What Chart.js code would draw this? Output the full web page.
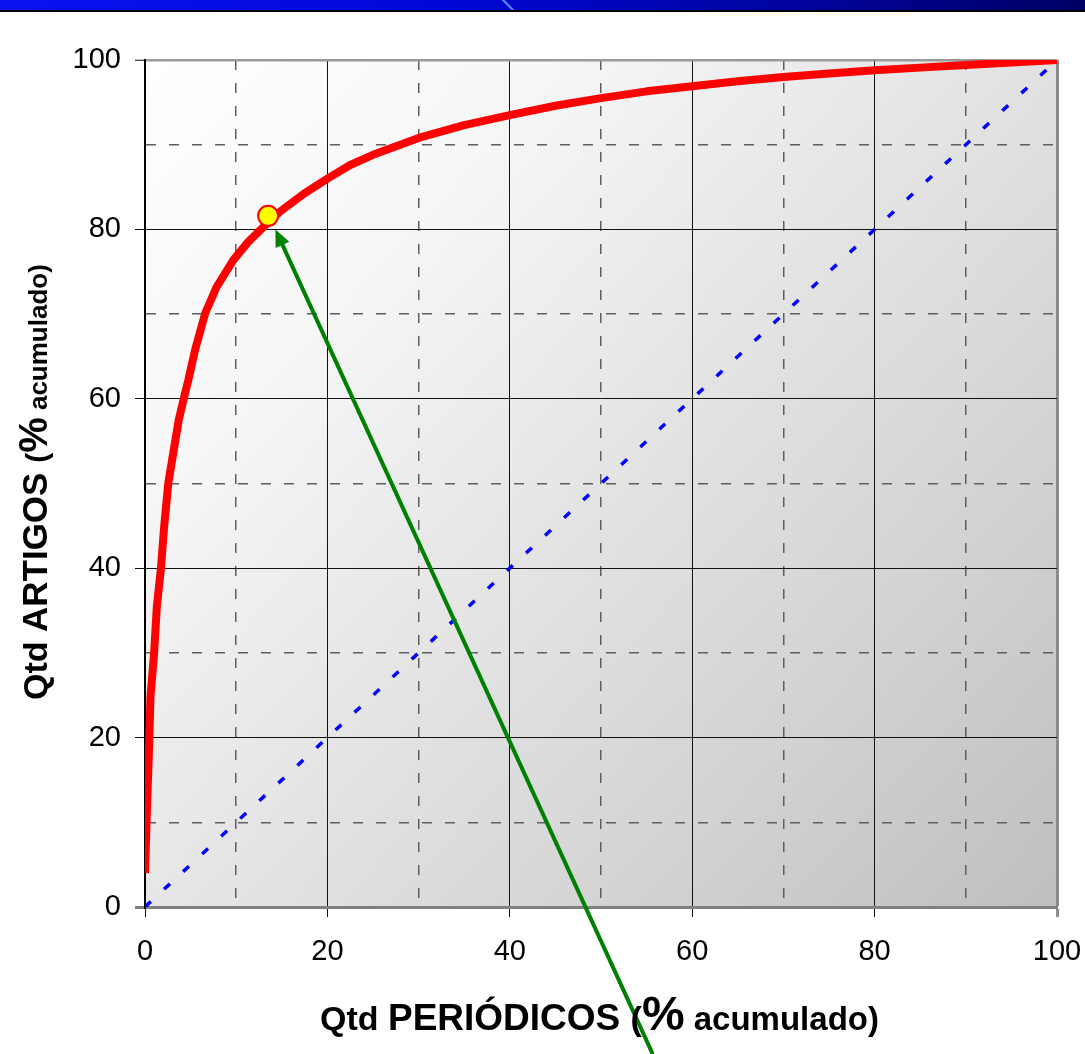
<!DOCTYPE html>
<html>
<head>
<meta charset="utf-8">
<script src="https://cdn.jsdelivr.net/npm/chart.js@4.4.1/dist/chart.umd.min.js"></script>
<style>
  html, body { margin: 0; padding: 0; background: #fff; overflow: hidden; }
  #wrap { position: relative; width: 1085px; height: 1054px; }
  #wrap canvas { display: block; }
  #header {
    position: absolute; left: 0; top: 0; width: 1085px; height: 10px;
    background: linear-gradient(to right, #0a12f2 0%, #0008d8 40%, #00039a 75%, #000064 100%);
    border-bottom: 2px solid #000; overflow: hidden; z-index: 2;
  }
  #header .streak {
    position: absolute; left: 508px; top: -4px; width: 2px; height: 20px;
    background: #5a8cff; transform: rotate(-45deg);
  }
</style>
</head>
<body>
<div id="wrap">
  <div id="header"><div class="streak"></div></div>
  <canvas id="lorenzChart"></canvas>
</div>
<script>
// ===== DATA =====
// cumulative % of journals (x) vs cumulative % of articles (y)
const curveX = [0, 0.2, 0.45, 0.6, 1.0, 1.3, 1.75, 2.1, 2.55, 3.1, 3.7, 4.4, 4.75, 5.5, 6.6, 7.85, 9.7, 11.3, 13.0, 14.8, 17.4, 20, 22.5, 25, 30, 35, 40, 45, 50, 55, 60, 65, 70, 75, 80, 85, 90, 95, 100];
const curveY = [4, 11.1, 18.9, 24.8, 30, 35.5, 40, 44.9, 50, 53.6, 57.5, 60.7, 62.2, 65.8, 70.1, 73.2, 76.4, 78.5, 80.3, 82.1, 84.2, 86.0, 87.6, 88.8, 90.8, 92.3, 93.5, 94.6, 95.5, 96.3, 96.9, 97.5, 98.0, 98.4, 98.8, 99.1, 99.4, 99.7, 100];

// equality line
const diagX = [0, 100];
const diagY = [0, 100];

// highlighted point and the arrow that points at it (tail, tip)
const markX = [13.5];
const markY = [81.6];
const arrowX = [55.6, 14.3];
const arrowY = [-17.2, 80.0];

// tick labels shown on both axes
const tickLabels = [0, 20, 40, 60, 80, 100];

// axis titles: [text, font size]
const xTitle = [["Qtd ", 34], ["PERIÓDICOS ", 37], ["(", 34], ["%", 48], [" acumulado)", 33]];
const yTitle = [["Qtd ", 34], ["ARTIGOS ", 35], ["(", 30], ["%", 40], [" acumulado)", 26]];

const FONT = "'Liberation Sans', Arial, sans-serif";

// ===== PLUGINS =====
const plotBackground = {
  id: "plotBackground",
  beforeDraw(chart) {
    const { ctx, chartArea: a } = chart;
    const g = ctx.createLinearGradient(a.left, a.top, a.right, a.bottom);
    g.addColorStop(0, "#ffffff");
    g.addColorStop(0.25, "#f6f6f6");
    g.addColorStop(0.5, "#e4e4e4");
    g.addColorStop(0.75, "#d2d2d2");
    g.addColorStop(1, "#bfbfbf");
    ctx.save();
    ctx.fillStyle = g;
    ctx.fillRect(a.left, a.top, a.right - a.left, a.bottom - a.top);
    ctx.restore();
  },
};

const arrowPlugin = {
  id: "arrowPlugin",
  afterDatasetsDraw(chart) {
    const { ctx, scales } = chart;
    const x0 = scales.x.getPixelForValue(arrowX[0]);
    const y0 = scales.y.getPixelForValue(arrowY[0]);
    const x1 = scales.x.getPixelForValue(arrowX[1]);
    const y1 = scales.y.getPixelForValue(arrowY[1]);
    const ang = Math.atan2(y1 - y0, x1 - x0);
    const headLen = 17, headHalf = 7.5;
    const bx = x1 - headLen * Math.cos(ang);
    const by = y1 - headLen * Math.sin(ang);
    ctx.save();
    ctx.strokeStyle = "#008000";
    ctx.fillStyle = "#008000";
    ctx.lineWidth = 4;
    ctx.lineCap = "round";
    ctx.beginPath();
    ctx.moveTo(x0, y0);
    ctx.lineTo(bx, by);
    ctx.stroke();
    ctx.beginPath();
    ctx.moveTo(x1, y1);
    ctx.lineTo(bx + headHalf * Math.sin(ang), by - headHalf * Math.cos(ang));
    ctx.lineTo(bx - headHalf * Math.sin(ang), by + headHalf * Math.cos(ang));
    ctx.closePath();
    ctx.fill();
    ctx.restore();
  },
};

// axis titles have mixed font sizes, so draw them piece by piece
function drawRich(ctx, parts) {
  let pos = 0;
  parts.forEach(([txt, size]) => {
    ctx.font = `bold ${size}px ${FONT}`;
    ctx.fillText(txt, pos, 0);
    pos += ctx.measureText(txt).width;
  });
}

const axisTitles = {
  id: "axisTitles",
  afterDraw(chart) {
    const { ctx } = chart;
    ctx.save();
    ctx.fillStyle = "#000";
    ctx.textBaseline = "alphabetic";
    ctx.textAlign = "left";
    ctx.translate(320, 1030);
    drawRich(ctx, xTitle);
    ctx.restore();

    ctx.save();
    ctx.fillStyle = "#000";
    ctx.textBaseline = "alphabetic";
    ctx.textAlign = "left";
    ctx.translate(47, 700);
    ctx.rotate(-Math.PI / 2);
    drawRich(ctx, yTitle);
    ctx.restore();
  },
};

// ===== GRID STYLE HELPERS =====
const isMajor = (c) => c.tick && c.tick.value % 20 === 0;
const gridColor = (edgeColor) => (c) => {
  if (!c.tick) return "#000";
  if (c.tick.value === 100) return edgeColor;
  return isMajor(c) ? "#111" : "#5e5e5e";
};

const axisFont = { family: FONT, size: 29 };
const tickCb = (v) => (tickLabels.includes(v) ? v : "");

// ===== CHART =====
new Chart(document.getElementById("lorenzChart"), {
  type: "scatter",
  data: {
    datasets: [
      {
        label: "Artigos acumulados",
        data: curveX.map((x, i) => ({ x, y: curveY[i] })),
        showLine: true,
        borderColor: "#ff0000",
        borderWidth: 8,
        pointRadius: 0,
        tension: 0,
        borderJoinStyle: "round",
        order: 2,
      },
      {
        label: "Igualdade",
        data: diagX.map((x, i) => ({ x, y: diagY[i] })),
        showLine: true,
        borderColor: "#0000ff",
        borderWidth: 3.5,
        borderDash: [8, 18],
        pointRadius: 0,
        order: 3,
      },
      {
        label: "Ponto",
        data: markX.map((x, i) => ({ x, y: markY[i] })),
        pointRadius: 10,
        pointBackgroundColor: "#ffff00",
        pointBorderColor: "#ff0000",
        pointBorderWidth: 2,
        order: 1,
      },
    ],
  },
  options: {
    responsive: true,
    maintainAspectRatio: false,
    animation: false,
    layout: { autoPadding: false, padding: { top: 60, right: 28, left: 0, bottom: 0 } },
    plugins: {
      legend: { display: false },
      tooltip: { enabled: false },
    },
    scales: {
      x: {
        type: "linear",
        min: 0,
        max: 100,
        afterFit: (s) => { s.height = 147; s.paddingLeft = 0; s.paddingRight = 0; },
        ticks: { stepSize: 10, autoSkip: false, maxRotation: 0, callback: tickCb, font: axisFont, color: "#000", padding: 18 },
        grid: {
          color: gridColor("#8c8c8c"),
          lineWidth: (c) => (c.tick && c.tick.value === 100 ? 3 : isMajor(c) ? 1 : 1.5),
          tickLength: 10,
          tickColor: (c) => (isMajor(c) ? (c.tick.value === 100 ? "#8c8c8c" : "#111") : "rgba(0,0,0,0)"),
          tickWidth: (c) => (c.tick && c.tick.value === 100 ? 3 : 1),
        },
        border: {
          color: "#808080",
          width: 3,
          dash: (c) => (c.tick && !isMajor(c) ? [10, 13] : []),
        },
      },
      y: {
        type: "linear",
        min: 0,
        max: 100,
        afterFit: (s) => { s.width = 145; s.paddingTop = 0; s.paddingBottom = 0; },
        ticks: { stepSize: 10, autoSkip: false, callback: tickCb, font: axisFont, color: "#000", padding: 14 },
        grid: {
          color: (c) => {
            if (c.tick && c.tick.value === 0) return "#808080";
            return gridColor("#9a9a9a")(c);
          },
          lineWidth: (c) => (c.tick && c.tick.value === 100 ? 2.5 : c.tick && c.tick.value === 0 ? 3 : isMajor(c) ? 1 : 1.5),
          tickLength: 10,
          tickColor: (c) => (isMajor(c) ? (c.tick.value === 0 ? "#808080" : "#111") : "rgba(0,0,0,0)"),
          tickWidth: (c) => (c.tick && c.tick.value === 0 ? 3 : 1),
        },
        border: {
          color: "#000",
          width: 2,
          dash: (c) => (c.tick && !isMajor(c) ? [10, 13] : []),
        },
      },
    },
  },
  plugins: [plotBackground, arrowPlugin, axisTitles],
});
</script>
</body>
</html>
